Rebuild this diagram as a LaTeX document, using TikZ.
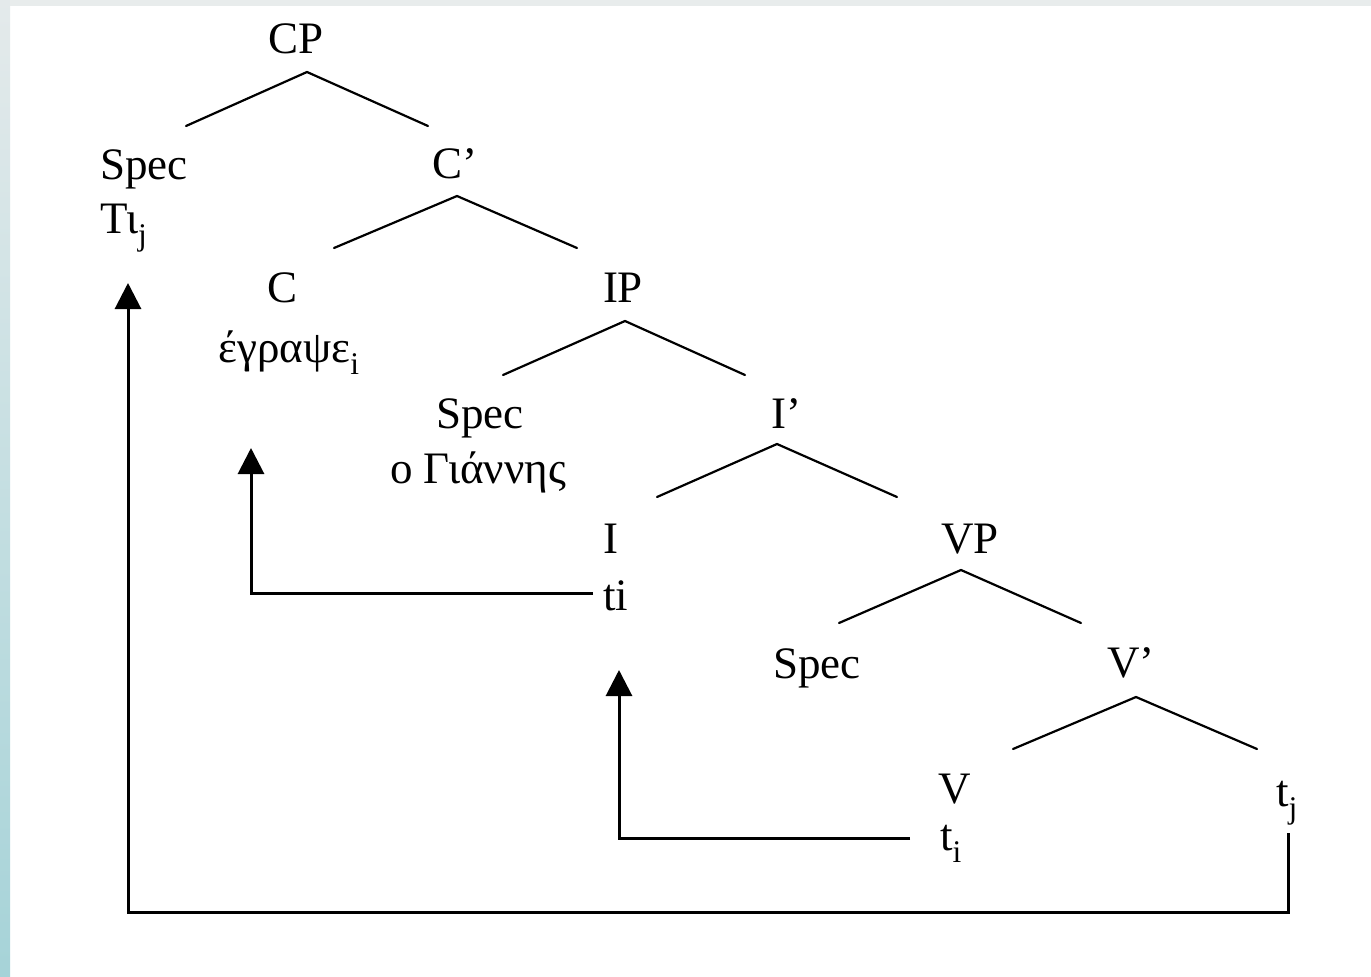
\documentclass[tikz,border=0pt]{standalone}
\usepackage{fontspec}
\setmainfont{Liberation Serif}
\usetikzlibrary{arrows.meta}
\definecolor{stripbot}{HTML}{A6D3D8}
\definecolor{striptop}{HTML}{E4EAEB}
\definecolor{topgray}{HTML}{E8ECEC}
\begin{document}
\begin{tikzpicture}[x=1pt,y=-1pt,
  lbl/.style={inner sep=0pt, font=\fontsize{45}{54}\selectfont, anchor=base},
  lblw/.style={lbl, anchor=base west},
  branch/.style={line width=2.2pt, line cap=round},
  mv/.style={line width=3pt, -{Triangle[length=26pt,width=26pt]}},
]
\useasboundingbox (0,0) rectangle (1371,977);
\fill[white] (0,0) rectangle (1371,977);
\shade[top color=striptop, bottom color=stripbot] (0,0) rectangle (10,977);
\fill[topgray] (10,0) rectangle (1371,6);

% nodes
\node[lbl] (CP) at (296,53) {CP};
\node[lblw] (specC) at (100,179) {Spec};
\node[lblw] (whT) at (100,233) {Τι\textsubscript{j}};
\node[lbl] (Cbar) at (455,178) {C’};
\node[lbl] (C) at (283,302) {C};
\node[lbl] (egr) at (289,362) {έγραψε\textsubscript{i}};
\node[lbl] (IP) at (623,302) {IP};
\node[lbl] (specI) at (480,428) {Spec};
\node[lbl] (giannis) at (478,483) {ο Γιάννης};
\node[lbl] (Ibar) at (786,428) {I’};
\node[lblw] (I) at (603,553) {I};
\node[lblw] (tiI) at (603,610) {ti};
\node[lbl] (VP) at (970,553) {VP};
\node[lbl] (specV) at (817,678) {Spec};
\node[lbl] (Vbar) at (1131,677) {V’};
\node[lbl] (V) at (955,803) {V};
\node[lblw] (tiV) at (940,850) {t\textsubscript{i}};
\node[lbl] (tj) at (1287,806) {t\textsubscript{j}};

% branch coordinates
\coordinate (CP-a) at (307,72);  \coordinate (CP-l) at (186,126);  \coordinate (CP-r) at (428,126);
\coordinate (Cb-a) at (457,196); \coordinate (Cb-l) at (334,248);  \coordinate (Cb-r) at (577,248);
\coordinate (IP-a) at (625,321); \coordinate (IP-l) at (503,375);  \coordinate (IP-r) at (745,375);
\coordinate (Ib-a) at (777,444); \coordinate (Ib-l) at (657,497);  \coordinate (Ib-r) at (897,497);
\coordinate (VP-a) at (961,570); \coordinate (VP-l) at (839,623);  \coordinate (VP-r) at (1081,623);
\coordinate (Vb-a) at (1136,697);\coordinate (Vb-l) at (1013,749); \coordinate (Vb-r) at (1257,749);

\draw[branch] (CP-l) -- (CP-a) -- (CP-r);
\draw[branch] (Cb-l) -- (Cb-a) -- (Cb-r);
\draw[branch] (IP-l) -- (IP-a) -- (IP-r);
\draw[branch] (Ib-l) -- (Ib-a) -- (Ib-r);
\draw[branch] (VP-l) -- (VP-a) -- (VP-r);
\draw[branch] (Vb-l) -- (Vb-a) -- (Vb-r);

% movement arrows
\coordinate (tipC) at (251,448);
\coordinate (tipI) at (619,670);
\coordinate (tipSpec) at (128,283);
\coordinate (corner) at (128,912);

\draw[mv] ([xshift=-10pt]tiI.west |- 0,593) -| (tipC);
\draw[mv] ([xshift=-30pt]tiV.west |- 0,838) -| (tipI);
\draw[mv] (1288,833) |- (corner) -- (tipSpec);
\end{tikzpicture}
\end{document}
